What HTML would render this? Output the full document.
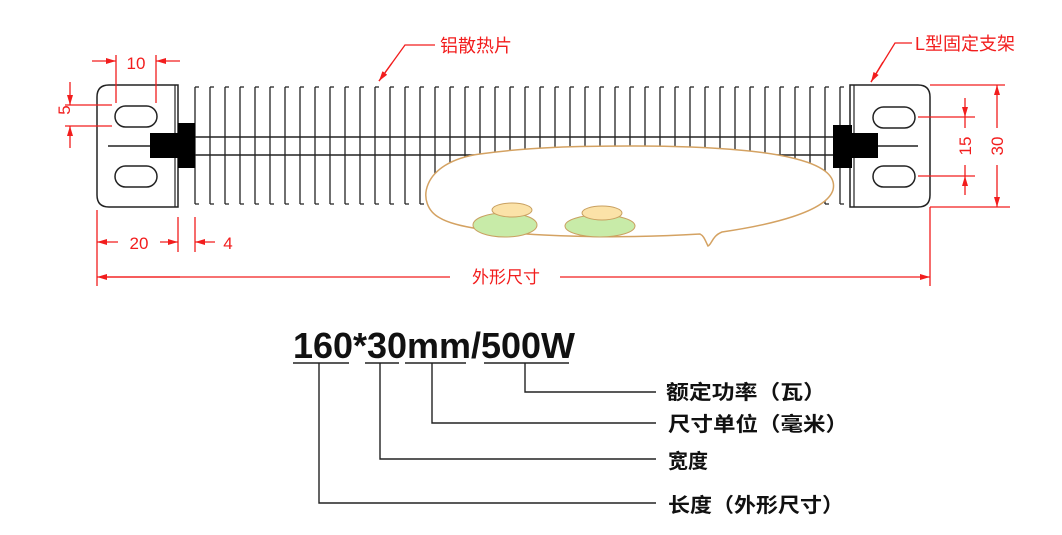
<!DOCTYPE html>
<html><head><meta charset="utf-8"><style>
html,body{margin:0;padding:0;background:#fff;}
svg{display:block;}
.r{fill:#f21d1d;font-family:"Liberation Sans","Noto Sans CJK SC",sans-serif;}
.k{fill:#111;font-family:"Liberation Sans","Noto Sans CJK SC",sans-serif;}
</style></head><body>
<svg width="1062" height="535" viewBox="0 0 1062 535" xmlns="http://www.w3.org/2000/svg">
<defs>
<marker id="a" markerWidth="10" markerHeight="6" refX="10" refY="3" orient="auto" markerUnits="userSpaceOnUse"><path d="M0,0 L10,3 L0,6 z" fill="#f21d1d"/></marker>
</defs>
<g stroke="#222" stroke-width="1.3" fill="none">
<path d="M195,87V204M195,87h4M195,204h4M210,87V204M210,87h4M210,204h4M225,87V204M225,87h4M225,204h4M240,87V204M240,87h4M240,204h4M255,87V204M255,87h4M255,204h4M270,87V204M270,87h4M270,204h4M285,87V204M285,87h4M285,204h4M300,87V204M300,87h4M300,204h4M315,87V204M315,87h4M315,204h4M330,87V204M330,87h4M330,204h4M345,87V204M345,87h4M345,204h4M360,87V204M360,87h4M360,204h4M375,87V204M375,87h4M375,204h4M390,87V204M390,87h4M390,204h4M405,87V204M405,87h4M405,204h4M420,87V204M420,87h4M420,204h4M435,87V204M435,87h4M435,204h4M450,87V204M450,87h4M450,204h4M465,87V204M465,87h4M465,204h4M480,87V204M480,87h4M480,204h4M495,87V204M495,87h4M495,204h4M510,87V204M510,87h4M510,204h4M525,87V204M525,87h4M525,204h4M540,87V204M540,87h4M540,204h4M555,87V204M555,87h4M555,204h4M570,87V204M570,87h4M570,204h4M585,87V204M585,87h4M585,204h4M600,87V204M600,87h4M600,204h4M615,87V204M615,87h4M615,204h4M630,87V204M630,87h4M630,204h4M645,87V204M645,87h4M645,204h4M660,87V204M660,87h4M660,204h4M675,87V204M675,87h4M675,204h4M690,87V204M690,87h4M690,204h4M705,87V204M705,87h4M705,204h4M720,87V204M720,87h4M720,204h4M735,87V204M735,87h4M735,204h4M750,87V204M750,87h4M750,204h4M765,87V204M765,87h4M765,204h4M780,87V204M780,87h4M780,204h4M795,87V204M795,87h4M795,204h4M810,87V204M810,87h4M810,204h4M825,87V204M825,87h4M825,204h4M840,87V204M840,87h4M840,204h4"/>
<path d="M195,137H850M195,155H850" stroke-width="1.6"/>
</g>
<path d="M178,85 H109 Q97,85 97,97 V195 Q97,207 109,207 H178 Z" fill="#fff" stroke="#222" stroke-width="1.5"/>
<path d="M175,85V207" stroke="#222" stroke-width="1.2"/>
<rect x="115" y="106" width="42" height="21" rx="10.5" fill="none" stroke="#222" stroke-width="1.5"/>
<rect x="115" y="166" width="42" height="21" rx="10.5" fill="none" stroke="#222" stroke-width="1.5"/>
<path d="M108,146H150" stroke="#222" stroke-width="1.5"/>
<rect x="150" y="133" width="28" height="25" fill="#000"/>
<rect x="178" y="123" width="17" height="45" fill="#000"/>
<path d="M850,85 H918 Q930,85 930,97 V195 Q930,207 918,207 H850 Z" fill="#fff" stroke="#222" stroke-width="1.5"/>
<path d="M854,85V207" stroke="#222" stroke-width="1.2"/>
<rect x="873" y="107" width="42" height="21" rx="10.5" fill="none" stroke="#222" stroke-width="1.5"/>
<rect x="873" y="166" width="42" height="21" rx="10.5" fill="none" stroke="#222" stroke-width="1.5"/>
<path d="M878,146H918" stroke="#222" stroke-width="1.5"/>
<rect x="833" y="125" width="19" height="43" fill="#000"/>
<rect x="852" y="133" width="26" height="25" fill="#000"/>
<path d="M630,146 C780,146 840,162 833,190 C826,212 770,225 722,232 C712,236 712,244 708,246 C705,240 704,236 700,234 C600,240 470,236 440,218 C415,205 420,162 480,154 C530,147 580,146 630,146 Z" fill="#fff" stroke="#d4a262" stroke-width="1.5"/>
<ellipse cx="505" cy="225" rx="32" ry="12" fill="#c8eba8" stroke="#c9a060" stroke-width="1"/>
<ellipse cx="512" cy="210" rx="20" ry="7" fill="#fbe2a8" stroke="#c9a060" stroke-width="1"/>
<ellipse cx="600" cy="226" rx="35" ry="11" fill="#c8eba8" stroke="#c9a060" stroke-width="1"/>
<ellipse cx="602" cy="213" rx="20" ry="7" fill="#fbe2a8" stroke="#c9a060" stroke-width="1"/>
<g stroke="#f21d1d" stroke-width="1.3" fill="none">
<path d="M116,55V103M156,55V103"/>
<path d="M92,61H116" marker-end="url(#a)"/><path d="M180,61H156" marker-end="url(#a)"/>
<path d="M65,105H112M65,126H112"/>
<path d="M70,82V105" marker-end="url(#a)"/><path d="M70,148V126" marker-end="url(#a)"/>
<path d="M97,210V286M178,217V252M195,217V252"/>
<path d="M118,242H97" marker-end="url(#a)"/><path d="M160,242H178" marker-end="url(#a)"/>
<path d="M215,242H195" marker-end="url(#a)"/>
<path d="M930,207V286M930,207H1010M930,85H1005"/>
<path d="M104,277H450" /><path d="M180,277H97" marker-end="url(#a)"/>
<path d="M560,277H930" marker-end="url(#a)"/>
<path d="M997,128V85" marker-end="url(#a)"/><path d="M997,165V207" marker-end="url(#a)"/>
<path d="M918,117H975M918,176H975"/>
<path d="M965,98V117" marker-end="url(#a)"/><path d="M965,195V176" marker-end="url(#a)"/>
<path d="M965,128V117M965,165V176"/>
<path d="M435,45H405L379,81" /><path d="M392,63L379,81" marker-end="url(#a)"/>
<path d="M912,43H895L871,82"/><path d="M883,62L871,82" marker-end="url(#a)"/>
</g>
<rect x="452" y="266" width="108" height="20" fill="#fff"/>
<text class="r" x="136" y="69" font-size="17" text-anchor="middle">10</text>
<text class="r" x="76" y="116" font-size="17" text-anchor="middle" transform="rotate(-90 70 116)">5</text>
<text class="r" x="139" y="249" font-size="17" text-anchor="middle">20</text>
<text class="r" x="228" y="249" font-size="17" text-anchor="middle">4</text>
<text class="r" x="506" y="283" font-size="17" text-anchor="middle">外形尺寸</text>
<text class="r" x="965" y="152" font-size="17" text-anchor="middle" transform="rotate(-90 965 146)">15</text>
<text class="r" x="997" y="152" font-size="17" text-anchor="middle" transform="rotate(-90 997 146)">30</text>
<text class="r" x="440" y="52" font-size="18">铝散热片</text>
<text class="r" x="915" y="50" font-size="18">L型固定支架</text>
<text class="k" x="293" y="358" font-size="36" font-weight="bold" textLength="282" lengthAdjust="spacingAndGlyphs">160*30mm/500W</text>
<g stroke="#222" stroke-width="1.4" fill="none">
<path d="M293,363H349M365,363H399M405,363H466M484,363H569"/>
<path d="M525,363V392H656M432,363V423H656M380,363V459H656M319,363V503H656"/>
</g>
<g class="k" font-size="20" font-weight="bold">
<text x="666" y="399" textLength="160" lengthAdjust="spacingAndGlyphs">额定功率（瓦）</text>
<text x="668" y="431" textLength="180" lengthAdjust="spacingAndGlyphs">尺寸单位（毫米）</text>
<text x="668" y="468">宽度</text>
<text x="668" y="512" textLength="176" lengthAdjust="spacingAndGlyphs">长度（外形尺寸）</text>
</g>
</svg>
</body></html>
